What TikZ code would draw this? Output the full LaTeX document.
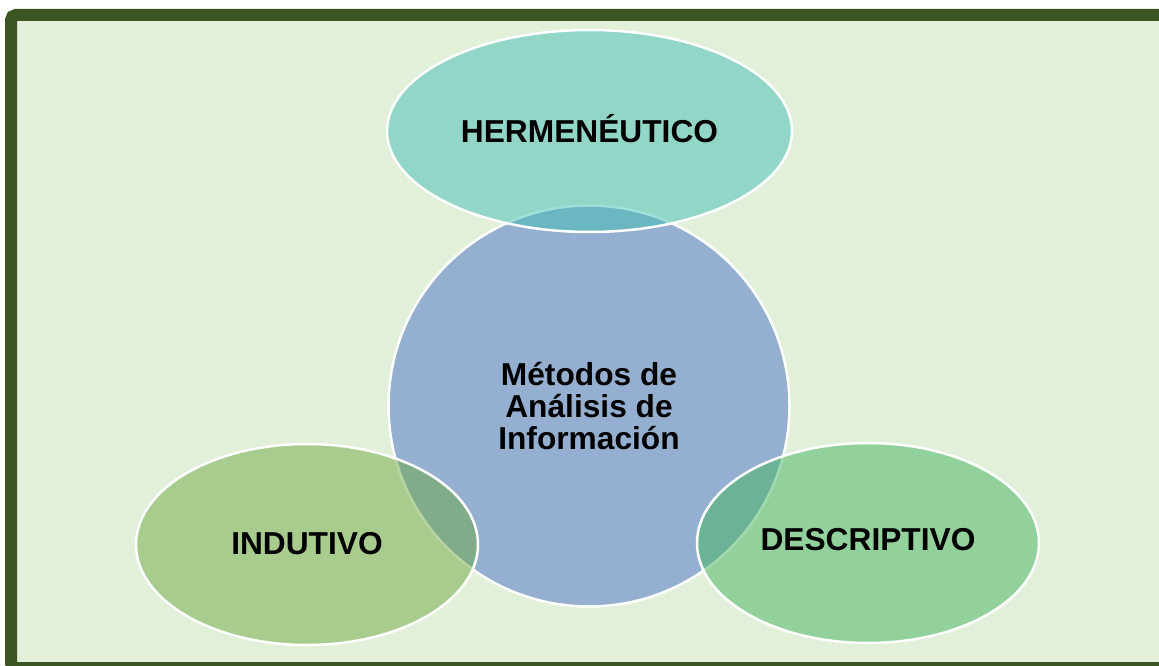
\documentclass[tikz,border=0pt]{standalone}
\usepackage{fontspec}
\setmainfont{Liberation Sans}
\usetikzlibrary{shapes.geometric}
\definecolor{bgc}{RGB}{226,239,217}
\definecolor{framec}{RGB}{59,85,35}
\definecolor{circc}{RGB}{148,175,207}
\definecolor{tealc}{RGB}{66,191,183}
\definecolor{leftc}{RGB}{112,171,69}
\definecolor{rightc}{RGB}{68,181,95}
\tikzset{
  lbl/.style={font=\fontsize{31.7}{32}\selectfont\bfseries, text=black, align=center},
  blob/.style={ellipse, draw=white, line width=2.5pt, inner sep=0pt, lbl},
  overlay/.style={blob, fill opacity=0.5, text opacity=1, draw opacity=1},
}
\begin{document}
\begin{tikzpicture}[x=1pt,y=-1pt]
\useasboundingbox (0,0) rectangle (1159,666);
\clip (0,0) rectangle (1159,666);
\fill[bgc] (11,15) rectangle (1175,672);
\draw[framec, line width=12pt, rounded corners=5pt] (11,15) rectangle (1175,668);
\node[blob, fill=circc, minimum width=401pt, minimum height=401pt] (c) at (589,406) {Métodos de\\Análisis de\\Información};
\node[overlay, fill=tealc, minimum width=405pt, minimum height=202pt] (h) at (589.5,131) {};
\node[overlay, fill=leftc, minimum width=342pt, minimum height=201pt] (l) at (307,544.5) {};
\node[overlay, fill=rightc, minimum width=342pt, minimum height=200pt] (r) at (868,543) {};
\node[lbl] (ht) at (589.5,129) {HERMENÉUTICO};
\node[lbl] (lt) at (307,544) {INDUTIVO};
\node[lbl] (rt) at (868,540) {DESCRIPTIVO};
\end{tikzpicture}
\end{document}
